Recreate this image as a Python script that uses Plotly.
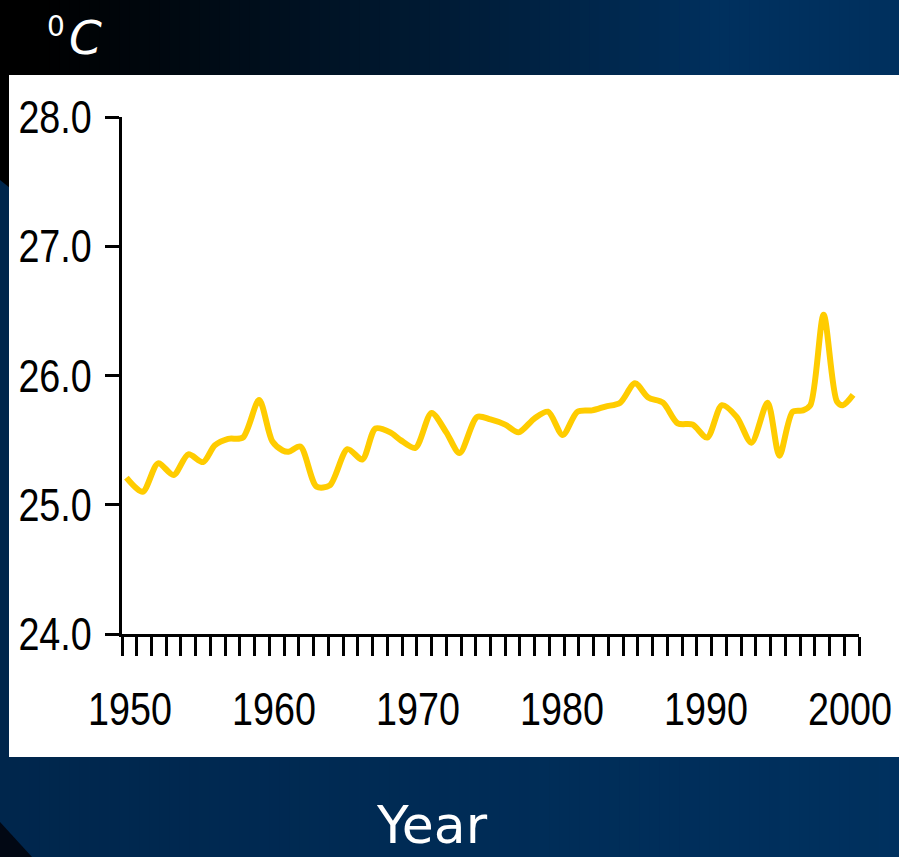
import plotly.graph_objects as go

# ---- data ----
years = [1950.3, 1951.4, 1952.45, 1953.5, 1954.5, 1955.5, 1956.3, 1957.2, 1958.2, 1959.3,
         1960.2, 1960.9, 1961.3, 1962.1, 1963.2, 1964.1, 1965.3, 1966.3, 1967.2, 1968.2,
         1968.9, 1969.9, 1971.0, 1972.0, 1972.9, 1974.1, 1975.0, 1976.0, 1976.9, 1978.0,
         1978.9, 1979.9, 1980.9, 1981.9, 1982.8, 1983.8, 1984.8, 1985.7, 1986.7, 1987.7,
         1988.7, 1989.7, 1990.7, 1991.7, 1992.7, 1993.8, 1994.6, 1995.5, 1996.2, 1996.7,
         1997.6, 1998.5, 1998.9, 1999.6]
temps = [25.21, 25.10, 25.32, 25.23, 25.39, 25.33, 25.46, 25.51, 25.52, 25.81,
         25.49, 25.42, 25.41, 25.45, 25.14, 25.15, 25.43, 25.35, 25.59, 25.56,
         25.50, 25.44, 25.71, 25.56, 25.40, 25.68, 25.66, 25.62, 25.56, 25.67,
         25.72, 25.54, 25.72, 25.73, 25.76, 25.79, 25.94, 25.83, 25.79, 25.63,
         25.62, 25.52, 25.77, 25.68, 25.48, 25.79, 25.38, 25.72, 25.73, 25.77,
         26.47, 25.80, 25.77, 25.85]
x_tick_vals = [1950, 1960, 1970, 1980, 1990, 2000]
x_tick_text = ["1950", "1960", "1970", "1980", "1990", "2000"]
y_tick_vals = [24, 25, 26, 27, 28]
y_tick_text = ["24.0", "25.0", "26.0", "27.0", "28.0"]

W, H = 899, 857
L, R, T, B = 122, 40, 117, 223
PW, PH = W - L - R, H - T - B

# the year labels sit on a slightly narrower scale than the tick marks
LABEL_FIRST_PX, LABEL_LAST_PX = 130, 850
lab_k = (LABEL_LAST_PX - LABEL_FIRST_PX) / (x_tick_vals[-1] - x_tick_vals[0])
lab_r0 = x_tick_vals[0] - (LABEL_FIRST_PX - L) / lab_k
lab_r1 = lab_r0 + PW / lab_k


def px(x):
    return (x - L) / PW


def py(y):
    return (H - B - y) / PH


def mix(c1, c2, t):
    t = max(0.0, min(1.0, t))
    return "rgb(%d,%d,%d)" % tuple(round(a + (b - a) * t) for a, b in zip(c1, c2))


shapes = []
NAVY_TOP = (0, 48, 94)
n = 90
# top gradient band
for i in range(n):
    x0 = W * i / n
    x1 = W * (i + 1) / n + 0.6
    t = ((x0 + x1) / 2 - 30) / 690
    col = mix((0, 0, 0), NAVY_TOP, t ** 1.1 if t > 0 else 0)
    shapes.append(dict(type="rect", xref="paper", yref="paper", x0=px(x0), x1=px(x1),
                       y0=py(0), y1=py(76), fillcolor=col, line_width=0, layer="below"))
# bottom band (slight gradient)
for i in range(n):
    x0 = W * i / n
    x1 = W * (i + 1) / n + 0.6
    col = mix((0, 38, 76), (0, 49, 95), (x0 + x1) / 2 / W)
    shapes.append(dict(type="rect", xref="paper", yref="paper", x0=px(x0), x1=px(x1),
                       y0=py(756), y1=py(H), fillcolor=col, line_width=0, layer="below"))
# left strip
shapes.append(dict(type="rect", xref="paper", yref="paper", x0=px(0), x1=px(10),
                   y0=py(75), y1=py(H), fillcolor="rgb(0,38,76)", line_width=0, layer="below"))
shapes.append(dict(type="path", xref="paper", yref="paper",
                   path="M %f,%f L %f,%f L %f,%f L %f,%f Z" % (px(0), py(70), px(10), py(70),
                                                              px(10), py(188), px(0), py(180)),
                   fillcolor="black", line_width=0, layer="below"))
# bottom-left dark triangle
shapes.append(dict(type="path", xref="paper", yref="paper",
                   path="M %f,%f L %f,%f L %f,%f Z" % (px(0), py(822), px(32), py(H), px(0), py(H)),
                   fillcolor="rgb(2,8,20)", line_width=0, layer="below"))
# white panel
shapes.append(dict(type="rect", xref="paper", yref="paper", x0=px(9), x1=px(W + 2),
                   y0=py(75), y1=py(757), fillcolor="white", line_width=0, layer="below"))

fig = go.Figure()
fig.add_trace(go.Scatter(x=years, y=temps, mode="lines",
                         line=dict(color="#FFCC00", width=6, shape="spline", smoothing=0.8),
                         hoverinfo="skip", showlegend=False))
# empty trace carrying the label axis
fig.add_trace(go.Scatter(x=x_tick_vals, y=[None] * len(x_tick_vals), xaxis="x2", yaxis="y",
                         mode="lines", hoverinfo="skip", showlegend=False))

tickfont = dict(family="Liberation Sans Narrow, Arial Narrow, Liberation Sans, Arial",
                size=46, color="black")

fig.update_layout(
    width=W, height=H, autosize=False,
    margin=dict(l=L, r=R, t=T, b=B, autoexpand=False),
    paper_bgcolor="rgb(0,42,84)",
    plot_bgcolor="rgba(0,0,0,0)",
    shapes=shapes,
    showlegend=False,
    xaxis=dict(range=[1950, 2000], tickvals=x_tick_vals, showticklabels=False,
               ticks="outside", ticklen=19, tickwidth=3, tickcolor="black",
               showline=True, linewidth=3, linecolor="black",
               showgrid=False, zeroline=False, automargin=False,
               minor=dict(dtick=1, tick0=1950, ticks="outside", ticklen=19, tickwidth=3,
                          tickcolor="black", showgrid=False)),
    xaxis2=dict(range=[lab_r0, lab_r1], overlaying="x", anchor="y", side="bottom",
                tickvals=x_tick_vals, ticktext=x_tick_text,
                ticks="outside", ticklen=19, tickwidth=1, tickcolor="rgba(0,0,0,0)",
                showline=False, showgrid=False, zeroline=False, tickfont=tickfont,
                automargin=False, ticklabeloverflow="allow", ticklabelstandoff=16),
    yaxis=dict(range=[24, 28], tickvals=y_tick_vals, ticktext=y_tick_text,
               ticks="outside", ticklen=14, tickwidth=3, tickcolor="black",
               showline=True, linewidth=3, linecolor="black",
               showgrid=False, zeroline=False, tickfont=tickfont, automargin=False,
               ticklabeloverflow="allow", ticklabelstandoff=4),
    annotations=[
        dict(text="0", xref="paper", yref="paper", x=px(45), y=py(27),
             xanchor="left", yanchor="middle", showarrow=False,
             font=dict(family="DejaVu Sans", size=28, color="white")),
        dict(text="<i>C</i>", xref="paper", yref="paper", x=px(67), y=py(37),
             xanchor="left", yanchor="middle", showarrow=False,
             font=dict(family="DejaVu Sans", size=47, color="white")),
        dict(text="Year", xref="paper", yref="paper", x=px(432), y=py(H),
             xanchor="center", yanchor="bottom", showarrow=False,
             font=dict(family="DejaVu Sans", size=52, color="white")),
    ],
)

post = """
document.body.style.margin = '0';
document.querySelectorAll('.xtick text, .x2tick text, .ytick text').forEach(function (t) {
  if (t.getAttribute('data-sq')) return;
  t.setAttribute('data-sq', '1');
  var x = parseFloat(t.getAttribute('x') || 0);
  var tr = t.getAttribute('transform') || '';
  t.setAttribute('transform', tr + ' translate(' + x + ',0) scale(0.82,1) translate(' + (-x) + ',0)');
});
"""

fig.write_html("out.html", post_script=post, config={"displayModeBar": False})
